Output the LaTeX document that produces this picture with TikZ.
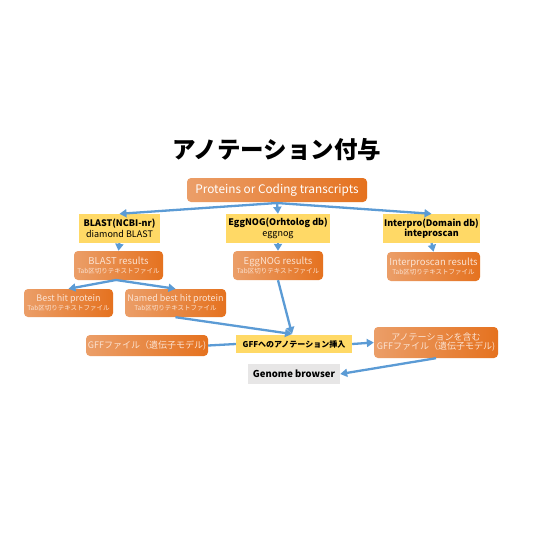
\documentclass[tikz,border=0pt]{standalone}
\usepackage{fontspec}
\setmainfont{Noto Sans CJK JP}
\usetikzlibrary{arrows.meta}
\definecolor{orL}{HTML}{EB9E68}
\definecolor{orM}{HTML}{C2560F}
\definecolor{orR}{HTML}{E5721F}
\definecolor{yel}{HTML}{FFD966}
\definecolor{gry}{HTML}{E7E6E6}
\definecolor{blu}{HTML}{5B9BD5}
\definecolor{txtL}{HTML}{FBE3D3}
\tikzset{
  obox/.style={rounded corners=4pt, left color=orL, middle color=orM, right color=orR, draw=none, text=txtL, align=center, inner sep=0pt, font=\fontsize{9}{10}\selectfont},
  ybox/.style={fill=yel, draw=none, align=center, inner sep=0pt, font=\fontsize{9}{10.5}\selectfont},
  gbox/.style={fill=gry, draw=none, align=center, inner sep=0pt, font=\bfseries\fontsize{9.5}{11}\selectfont},
  arr/.style={draw=blu, line width=2.3pt, -{Triangle[length=7pt,width=8pt]}},
  ln/.style={draw=blu, line width=2.3pt},
}
\newcommand{\smalltab}{\\[-1pt]{\fontsize{6.5}{7}\selectfont Tab区切りテキストファイル}}
\begin{document}
\begin{tikzpicture}[x=1pt,y=-1pt]
\useasboundingbox[fill=white] (0,0) rectangle (560,560);
\node (title) at (277,150) {\bfseries\fontsize{23.5}{26}\selectfont アノテーション付与};
\node[obox, minimum width=180pt, minimum height=24pt, text=white, font=\fontsize{11.8}{13}\selectfont] (prot) at (277,190) {Proteins or Coding transcripts};
\node[ybox, minimum width=81pt, minimum height=29pt] (blast) at (119.5,228.5) {\textbf{BLAST(NCBI-nr)}\\diamond BLAST};
\node[ybox, minimum width=104pt, minimum height=29pt] (egg) at (278,228.5) {\textbf{EggNOG(Orhtolog db)}\\eggnog};
\node[ybox, minimum width=97pt, minimum height=29pt] (ipr) at (431.5,228.5) {\textbf{Interpro(Domain db)}\\\textbf{inteproscan}};
\node[obox, minimum width=89pt, minimum height=29pt, font=\fontsize{9.5}{10.5}\selectfont] (blastr) at (118.5,265.5) {BLAST results\smalltab};
\node[obox, minimum width=90pt, minimum height=29pt, font=\fontsize{9.5}{10.5}\selectfont] (eggr) at (278,265.5) {EggNOG results\smalltab};
\node[obox, minimum width=93pt, minimum height=29pt, font=\fontsize{9.5}{10.5}\selectfont] (iprr) at (433.5,266.5) {Interproscan results\smalltab};
\node[obox, minimum width=89pt, minimum height=28pt] (best) at (68.5,303) {Best hit protein\smalltab};
\node[obox, minimum width=101pt, minimum height=28pt] (named) at (175.5,303) {Named best hit protein\smalltab};
\node[obox, minimum width=122pt, minimum height=21pt] (gff) at (147,345.5) {GFFファイル（遺伝子モデル)};
\node[ybox, minimum width=116pt, minimum height=18pt, font=\bfseries\fontsize{8}{9}\selectfont] (ins) at (294,344) {GFFへのアノテーション挿入};
\node[obox, minimum width=124pt, minimum height=31pt] (agff) at (436,342.5) {アノテーションを含む\\[-1pt]GFFファイル（遺伝子モデル)};
\node[gbox, minimum width=92pt, minimum height=20pt] (gb) at (294,374) {Genome browser};
% connectors
\coordinate (pb) at (277,203);
\draw[arr] (pb) -- (blast.north);
\draw[arr] (pb) -- (egg.north);
\draw[arr] (pb) -- (ipr.north);
\draw[arr] (blast.south) -- (blastr.north);
\draw[arr] (egg.south) -- (eggr.north);
\draw[arr] (ipr.south) -- (iprr.north);
\coordinate (brb) at (116,280);
\draw[arr] (brb) -- (best.north);
\draw[arr] (brb) -- (named.north);
\coordinate (ip) at (292,334);
\draw[arr] (eggr.south) -- (ip);
\draw[arr] (named.south) -- (ip);
\draw[ln] (gff.east) -- (ins.west);
\draw[arr] (ins.east) -- (agff.west);
\draw[arr] (agff.south) -- (gb.east);
\end{tikzpicture}
\end{document}
